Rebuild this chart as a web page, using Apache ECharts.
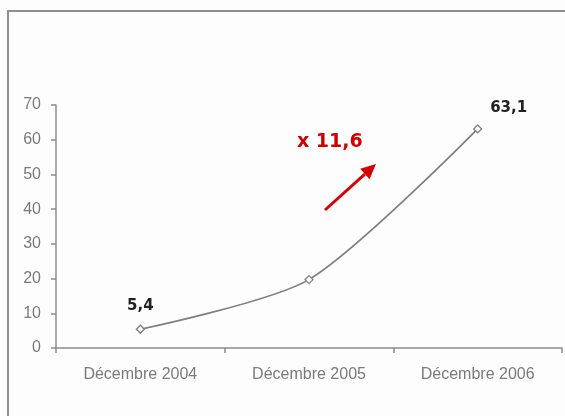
<!DOCTYPE html>
<html>
<head>
<meta charset="utf-8">
<script src="https://cdn.jsdelivr.net/npm/echarts@6/dist/echarts.min.js"></script>
<style>
  html, body { margin: 0; padding: 0; background: #fdfdfd; }
  #chart { width: 565px; height: 416px; }
</style>
</head>
<body>
<div id="chart"></div>
<script>
// Periods on the horizontal axis
const categories = ['Décembre 2004', 'Décembre 2005', 'Décembre 2006'];
// Series values
const values = [5.4, 19.7, 63.1];
// Which points carry a value label
const showLabel = [true, false, true];
// Growth factor annotation
const growthText = 'x 11,6';

const fmt = v => String(v).replace('.', ',');

const chart = echarts.init(document.getElementById('chart'), null, { renderer: 'canvas' });

const labelOffsets = [[0, 1], [0, 0], [31, 3]];

const border = {
  type: 'rect',
  shape: { x: 8, y: 11, width: 600, height: 500 },
  style: { fill: 'none', stroke: '#8f8f8f', lineWidth: 2 },
  silent: true
};

const option = {
  backgroundColor: '#fdfdfd',
  animation: false,
  grid: { left: 56, right: 3, top: 105, bottom: 68 },
  xAxis: {
    type: 'category',
    data: categories,
    boundaryGap: true,
    axisLine: { lineStyle: { color: '#8c8c8c', width: 1.5 } },
    axisTick: { show: true, length: 5, lineStyle: { color: '#8c8c8c', width: 1.5 } },
    axisLabel: { color: '#7a7a7a', fontFamily: 'Liberation Sans, Arial', fontSize: 16, margin: 19 }
  },
  yAxis: {
    type: 'value',
    min: 0, max: 70, interval: 10,
    splitLine: { show: false },
    axisLine: { show: true, lineStyle: { color: '#8c8c8c', width: 1.5 } },
    axisTick: { show: true, length: 5, lineStyle: { color: '#8c8c8c', width: 1.5 } },
    axisLabel: { color: '#7a7a7a', fontFamily: 'Liberation Sans, Arial', fontSize: 16, margin: 15 }
  },
  series: [{
    type: 'line',
    smooth: 0.25,
    data: values.map((v, i) => ({
      value: v,
      label: {
        show: showLabel[i],
        position: 'top',
        distance: 12,
        offset: labelOffsets[i],
        formatter: p => fmt(p.value),
        color: '#222',
        fontFamily: 'DejaVu Sans, Verdana',
        fontWeight: 'bold',
        fontSize: 15
      }
    })),
    symbol: 'diamond',
    symbolSize: 8,
    showAllSymbol: true,
    lineStyle: { color: '#7f7f7f', width: 1.7 },
    itemStyle: { color: '#ffffff', borderColor: '#7f7f7f', borderWidth: 1.3 }
  }],
  graphic: [border]
};
chart.setOption(option);

// Growth annotation: red label and arrow pointing up-right
(function () {
  const x1 = 325, y1 = 210, x2 = 376, y2 = 164;
  const ang = Math.atan2(y2 - y1, x2 - x1);
  const headLen = 15, headW = 7;
  const bx = x2 - headLen * Math.cos(ang), by = y2 - headLen * Math.sin(ang);
  const nx = -Math.sin(ang), ny = Math.cos(ang);
  chart.setOption({
    graphic: [
      border,
      {
        type: 'line',
        shape: { x1: x1, y1: y1, x2: bx, y2: by },
        style: { stroke: '#d40000', lineWidth: 3 },
        silent: true
      },
      {
        type: 'polygon',
        shape: { points: [[x2, y2], [bx + nx * headW, by + ny * headW], [bx - nx * headW, by - ny * headW]] },
        style: { fill: '#d40000' },
        silent: true
      },
      {
        type: 'text',
        left: 297, top: 133,
        style: {
          text: growthText,
          fill: '#cc0000',
          font: 'bold 19px "DejaVu Sans", Verdana'
        },
        silent: true
      }
    ]
  });
})();
</script>
</body>
</html>
